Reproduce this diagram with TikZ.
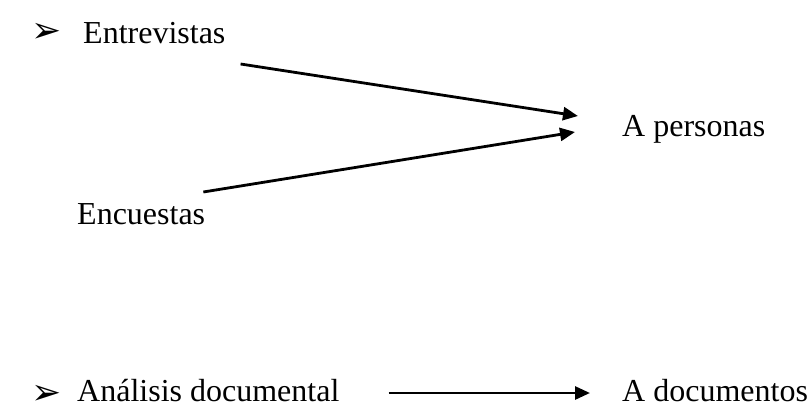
\documentclass[tikz,border=0pt]{standalone}
\usepackage{fontspec}
\setmainfont{Liberation Serif}
\newfontfamily\dingfont{DejaVu Sans}
\usetikzlibrary{arrows.meta}

\begin{document}
\begin{tikzpicture}[x=1pt, y=-1pt]
    \tikzstyle{txt} = [inner sep=0pt, anchor=base west, font=\fontsize{32}{38}\selectfont]
    \tikzstyle{bullet} = [inner sep=0pt, font=\dingfont\bfseries\fontsize{36}{40}\selectfont]
    \tikzstyle{arr} = [-{Triangle[length=15pt, width=13pt]}, line width=2.8pt]

    \useasboundingbox (0,0) rectangle (807,417);

    % Techniques
    \node[bullet] (bul1) at (47,33) {➢};
    \node[txt] (entrev) at (83,44) {Entrevistas};
    \node[txt] (encu) at (77,225) {Encuestas};
    \node[bullet] (bul2) at (47,395) {➢};
    \node[txt] (anal) at (77,401) {Análisis documental};

    % Targets
    \node[txt] (pers) at (622,137) {A personas};
    \node[txt] (docs) at (622,401) {A documentos};

    % Arrows
    \draw[arr] ([xshift=15pt, yshift=-20pt]entrev.base east) -- ([xshift=-44pt, yshift=21pt]pers.base west);
    \draw[arr] ([xshift=-2pt, yshift=33pt]encu.base east) -- ([xshift=-47pt, yshift=5pt]pers.base west);
    \draw[arr] ([xshift=49pt, yshift=8pt]anal.base east) -- ([xshift=-32pt, yshift=8pt]docs.base west);
\end{tikzpicture}
\end{document}
